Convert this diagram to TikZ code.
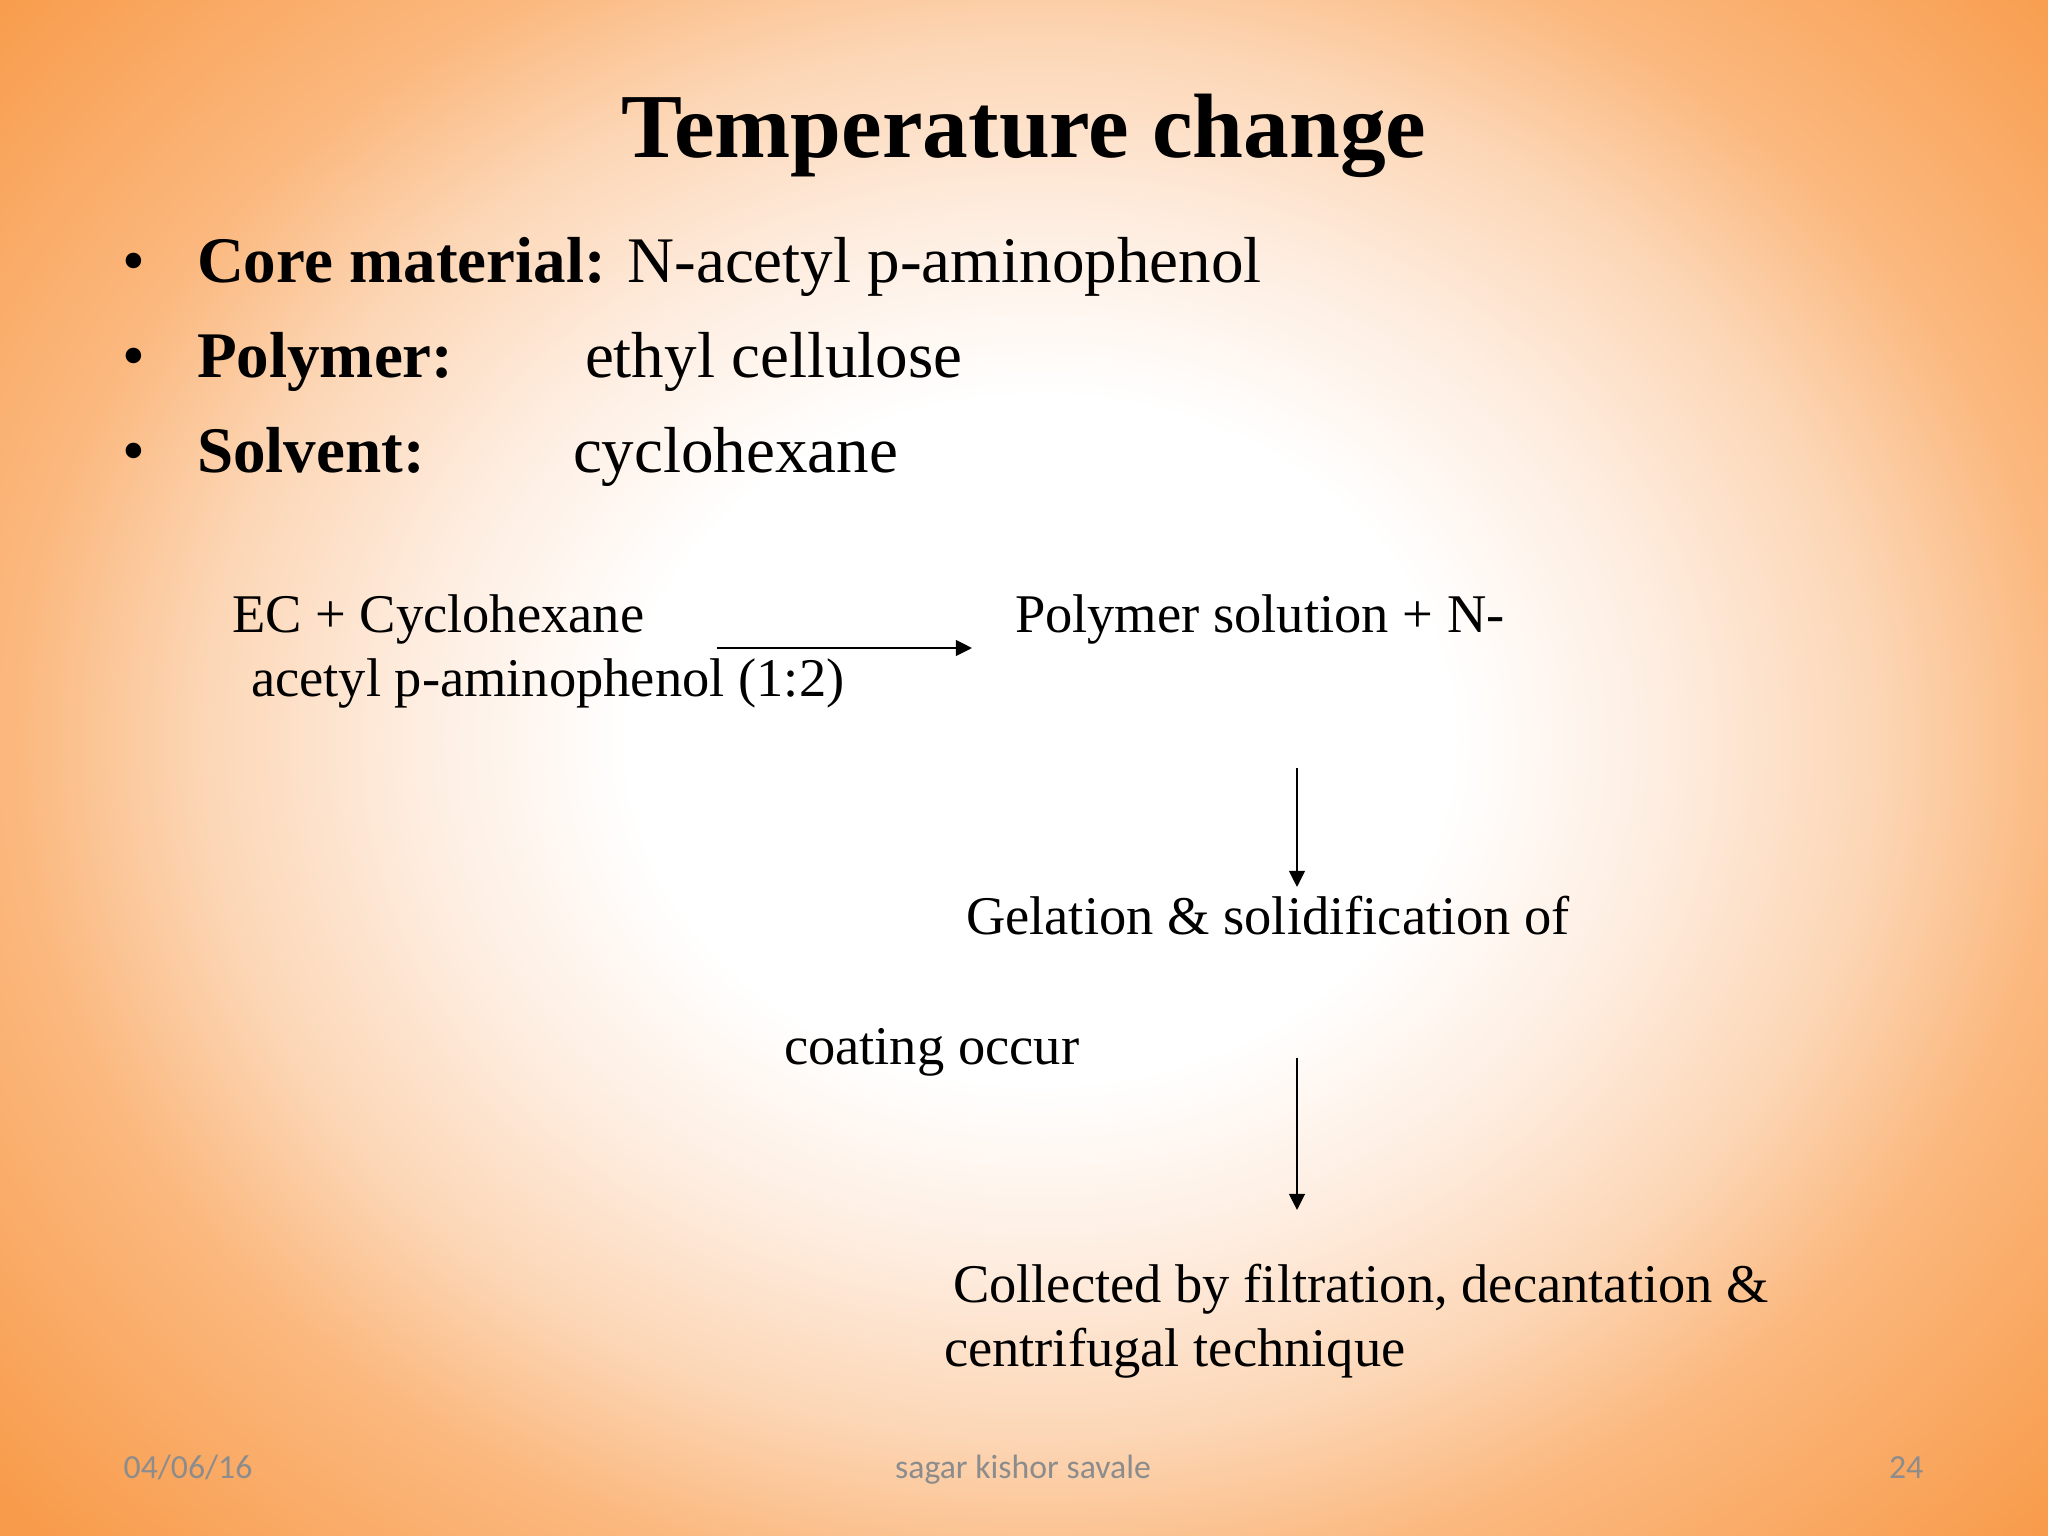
\documentclass[tikz,border=0pt]{standalone}
\usepackage{fontspec}
\setmainfont{Liberation Serif}
\newfontfamily\footfont{Carlito}
\usetikzlibrary{arrows.meta}
\definecolor{bgorange}{HTML}{F89C4C}
\definecolor{bgc1}{HTML}{FEEDE0}
\definecolor{bgc2}{HTML}{FCD6B5}
\definecolor{bgc3}{HTML}{FBB87E}
\definecolor{footgray}{HTML}{8C8C8C}
\pgfdeclareradialshading{bgshade}{\pgfpoint{0bp}{0bp}}{%
  color(0bp)=(white); color(7.5bp)=(white); color(11.4bp)=(bgc1);
  color(15.3bp)=(bgc2); color(18.7bp)=(bgc3); color(25bp)=(bgorange);
  color(50bp)=(bgorange)}
\tikzset{
  txt/.style={inner sep=0pt, outer sep=0pt, anchor=base west},
  titletxt/.style={inner sep=0pt, anchor=base, font=\fontsize{26}{30}\selectfont\bfseries},
  bullettxt/.style={txt, font=\fontsize{18.5}{22}\selectfont},
  flowtxt/.style={txt, font=\fontsize{15.5}{19}\selectfont},
  foottxt/.style={inner sep=0pt, font=\footfont\fontsize{9.6}{11}\selectfont, text=footgray},
  flowarrow/.style={line width=0.6pt, -{Triangle[length=4.6pt,width=4.5pt]}}
}
\begin{document}
\begin{tikzpicture}[x=0.01cm,y=-0.01cm]
\useasboundingbox (0,0) rectangle (2048,1536);
\begin{scope}
  \clip (0,0) rectangle (2048,1536);
  \fill[bgorange] (0,0) rectangle (2048,1536);
  \shade[shading=bgshade] (1040,740) ellipse [x radius=1370, y radius=1142];
\end{scope}

% title
\node[titletxt] (title) at (1024,157) {Temperature change};

% bullets
\node[bullettxt, anchor=base] (b1) at (134,282) {•};
\node[bullettxt] (l1) at (197,282) {\textbf{Core material:} N-acetyl p-aminophenol};
\node[bullettxt, anchor=base] (b2) at (134,377) {•};
\node[bullettxt] (l2a) at (197,377) {\textbf{Polymer:}};
\node[bullettxt] (l2b) at (585,377) {ethyl cellulose};
\node[bullettxt, anchor=base] (b3) at (134,472) {•};
\node[bullettxt] (l3a) at (197,472) {\textbf{Solvent:}};
\node[bullettxt] (l3b) at (573,472) {cyclohexane};

% flow
\node[flowtxt] (f1a) at (232,632) {EC + Cyclohexane};
\node[flowtxt] (f1b) at (251,696) {acetyl p-aminophenol (1:2)};
\node[flowtxt] (f2) at (1015,632) {Polymer solution + N-};
\node[flowtxt] (f3a) at (966,934) {Gelation \& solidification of};
\node[flowtxt] (f3b) at (784,1064) {coating occur};
\node[flowtxt] (f4a) at (953,1302) {Collected by filtration, decantation \&};
\node[flowtxt] (f4b) at (944,1366) {centrifugal technique};

\coordinate (a1s) at (717,648);
\coordinate (a1e) at (972,648);
\coordinate (a2s) at (1297,768);
\coordinate (a2e) at (1297,887);
\coordinate (a3s) at (1297,1058);
\coordinate (a3e) at (1297,1210);
\draw[flowarrow] (a1s) -- (a1e);
\draw[flowarrow] (a2s) -- (a2e);
\draw[flowarrow] (a3s) -- (a3e);

% footer
\node[foottxt, anchor=base west] (date) at (123,1478) {04/06/16};
\node[foottxt, anchor=base] (author) at (1023,1478) {sagar kishor savale};
\node[foottxt, anchor=base east] (page) at (1924,1478) {24};
\end{tikzpicture}
\end{document}
